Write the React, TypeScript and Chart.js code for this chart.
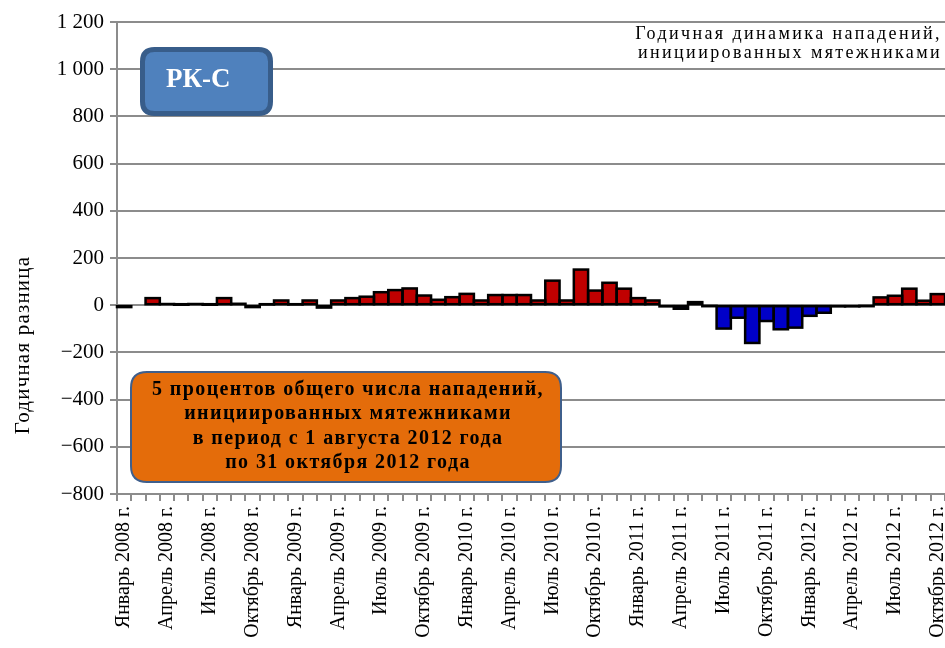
import React, { useEffect, useRef } from "react";
import { Chart, registerables } from "chart.js";

Chart.register(...registerables);

const MONTHS = [
  "Январь", "Февраль", "Март", "Апрель", "Май", "Июнь",
  "Июль", "Август", "Сентябрь", "Октябрь", "Ноябрь", "Декабрь",
];
const YEARS = [2008, 2009, 2010, 2011, 2012];
const LAST_MONTH_2012 = 9; // October

const categories: string[] = [];
for (const y of YEARS) {
  for (let m = 0; m < 12; m++) {
    if (y === 2012 && m > LAST_MONTH_2012) break;
    categories.push(`${MONTHS[m]} ${y} г.`);
  }
}

// Annual difference per month (Jan 2008 .. Oct 2012)
const values: (number | null)[] = [
  -8, null, 30, 5, 2, 5, 2, 30, 6, -8, 3, 20,        // 2008
  3, 20, -10, 20, 30, 36, 55, 64, 71, 41, 23, 34,     // 2009
  48, 20, 43, 43, 43, 20, 104, 20, 151, 62, 95, 70,   // 2010
  30, 20, -5, -15, 13, -3, -99, -53, -160, -67, -102, -95, // 2011
  -45, -32, -5, -5, -3, 33, 40, 70, 19, 47,            // 2012
];

const yMin = -800;
const yMax = 1200;
const yStep = 200;

const yAxisTitle = "Годичная разница";
const chartTitle = ["Годичная динамика нападений,", "инициированных мятежниками"];
const badgeText = "РК-С";
const noteLines = [
  "5 процентов общего числа нападений,",
  "инициированных мятежниками",
  "в период с 1 августа 2012 года",
  "по 31 октября 2012 года",
];

const SERIF = "'Liberation Serif', 'Times New Roman', serif";
const RED = "#C00000";
const BLUE = "#0000C8";
const GRID = "#8c8c8c";

function fmtTick(v: number): string {
  if (v === 0) return "0";
  const abs = Math.abs(v);
  const s = abs >= 1000 ? `${Math.floor(abs / 1000)} ${String(abs % 1000).padStart(3, "0")}` : String(abs);
  return v < 0 ? `\u2212${s}` : s;
}

function roundRect(ctx: CanvasRenderingContext2D, x: number, y: number, w: number, h: number, r: number) {
  ctx.beginPath();
  ctx.moveTo(x + r, y);
  ctx.lineTo(x + w - r, y);
  ctx.quadraticCurveTo(x + w, y, x + w, y + r);
  ctx.lineTo(x + w, y + h - r);
  ctx.quadraticCurveTo(x + w, y + h, x + w - r, y + h);
  ctx.lineTo(x + r, y + h);
  ctx.quadraticCurveTo(x, y + h, x, y + h - r);
  ctx.lineTo(x, y + r);
  ctx.quadraticCurveTo(x, y, x + r, y);
  ctx.closePath();
}

const barOutline = {
  id: "barOutline",
  afterDatasetsDraw(chart: any) {
    const ctx = chart.ctx as CanvasRenderingContext2D;
    const meta = chart.getDatasetMeta(0);
    ctx.save();
    ctx.strokeStyle = "#000";
    ctx.lineWidth = 2.5;
    meta.data.forEach((el: any, i: number) => {
      if (values[i] == null) return;
      const { x, y, base, width } = el.getProps(["x", "y", "base", "width"], true);
      if (!isFinite(y) || !isFinite(base)) return;
      ctx.strokeRect(x - width / 2, Math.min(y, base), width, Math.abs(base - y));
    });
    ctx.restore();
  },
};

const annotations = {
  id: "annotations",
  afterDraw(chart: any) {
    const ctx = chart.ctx as CanvasRenderingContext2D;
    ctx.save();

    // Y axis title
    ctx.save();
    ctx.translate(23, 345);
    ctx.rotate(-Math.PI / 2);
    ctx.font = `21px ${SERIF}`;
    (ctx as any).letterSpacing = "1.2px";
    ctx.fillStyle = "#000";
    ctx.textAlign = "center";
    ctx.textBaseline = "middle";
    ctx.fillText(yAxisTitle, 0, 0);
    (ctx as any).letterSpacing = "0px";
    ctx.restore();

    // Chart title (top right)
    ctx.font = `18px ${SERIF}`;
    (ctx as any).letterSpacing = "2.4px";
    ctx.fillStyle = "#000";
    ctx.textAlign = "right";
    ctx.textBaseline = "alphabetic";
    ctx.fillText(chartTitle[0], 942, 39);
    ctx.fillText(chartTitle[1], 942, 58);
    (ctx as any).letterSpacing = "0px";

    // Badge
    roundRect(ctx, 142.5, 49.5, 128, 64, 12);
    ctx.fillStyle = "#4F81BD";
    ctx.fill();
    ctx.lineWidth = 5;
    ctx.strokeStyle = "#385D8A";
    ctx.stroke();
    ctx.font = `bold 27px ${SERIF}`;
    ctx.fillStyle = "#fff";
    ctx.textAlign = "left";
    ctx.fillText(badgeText, 166, 87);

    // Note box
    roundRect(ctx, 131, 372, 430, 110, 16);
    ctx.fillStyle = "#E46C0A";
    ctx.fill();
    ctx.lineWidth = 2;
    ctx.strokeStyle = "#3F5F8C";
    ctx.stroke();
    ctx.font = `bold 20px ${SERIF}`;
    (ctx as any).letterSpacing = "1.4px";
    ctx.fillStyle = "#000";
    ctx.textAlign = "center";
    const ys = [395, 419, 444, 468];
    noteLines.forEach((t, i) => ctx.fillText(t, 348, ys[i]));
    (ctx as any).letterSpacing = "0px";

    ctx.restore();
  },
};

export default function App() {
  const ref = useRef<HTMLCanvasElement | null>(null);

  useEffect(() => {
    if (!ref.current) return;
    const chart = new Chart(ref.current, {
      type: "bar",
      data: {
        labels: categories,
        datasets: [
          {
            data: values as any,
            backgroundColor: values.map((v) => ((v ?? 0) >= 0 ? RED : BLUE)),
            borderWidth: 0,
            barPercentage: 1,
            categoryPercentage: 1,
          },
        ],
      },
      options: {
        animation: false,
        responsive: false,
        maintainAspectRatio: false,
        layout: { padding: { top: 22, left: 0, right: 0, bottom: 0 } },
        plugins: {
          legend: { display: false },
          tooltip: { enabled: false },
          title: { display: false },
        },
        scales: {
          x: {
            type: "category",
            offset: true,
            grid: {
              offset: true,
              drawOnChartArea: false,
              drawTicks: true,
              tickLength: 7,
              color: GRID,
              lineWidth: 2,
            },
            border: { display: true, color: GRID, width: 2 },
            ticks: {
              autoSkip: false,
              maxRotation: 90,
              minRotation: 90,
              padding: 5,
              color: "#000",
              font: { family: SERIF, size: 20 },
              callback: (_v: any, i: number) => (i % 3 === 0 ? categories[i] : ""),
            },
            afterFit: (s: any) => {
              s.height = 154;
              s.paddingLeft = 0;
              s.paddingRight = 0;
            },
          },
          y: {
            min: yMin,
            max: yMax,
            ticks: {
              stepSize: yStep,
              padding: 6,
              color: "#000",
              font: { family: SERIF, size: 21 },
              callback: (v: any) => fmtTick(Number(v)),
            },
            grid: {
              color: GRID,
              lineWidth: 2,
              drawTicks: true,
              tickLength: 7,
            },
            border: { display: true, color: GRID, width: 2 },
            afterFit: (s: any) => {
              s.width = 117;
            },
          },
        },
      },
      plugins: [barOutline, annotations],
    });
    return () => chart.destroy();
  }, []);

  return (
    <div style={{ position: "absolute", left: 0, top: 0, width: 945, height: 648, overflow: "hidden", background: "#fff" }}>
      <canvas ref={ref} width={945} height={648} style={{ width: 945, height: 648, display: "block" }} />
    </div>
  );
}
